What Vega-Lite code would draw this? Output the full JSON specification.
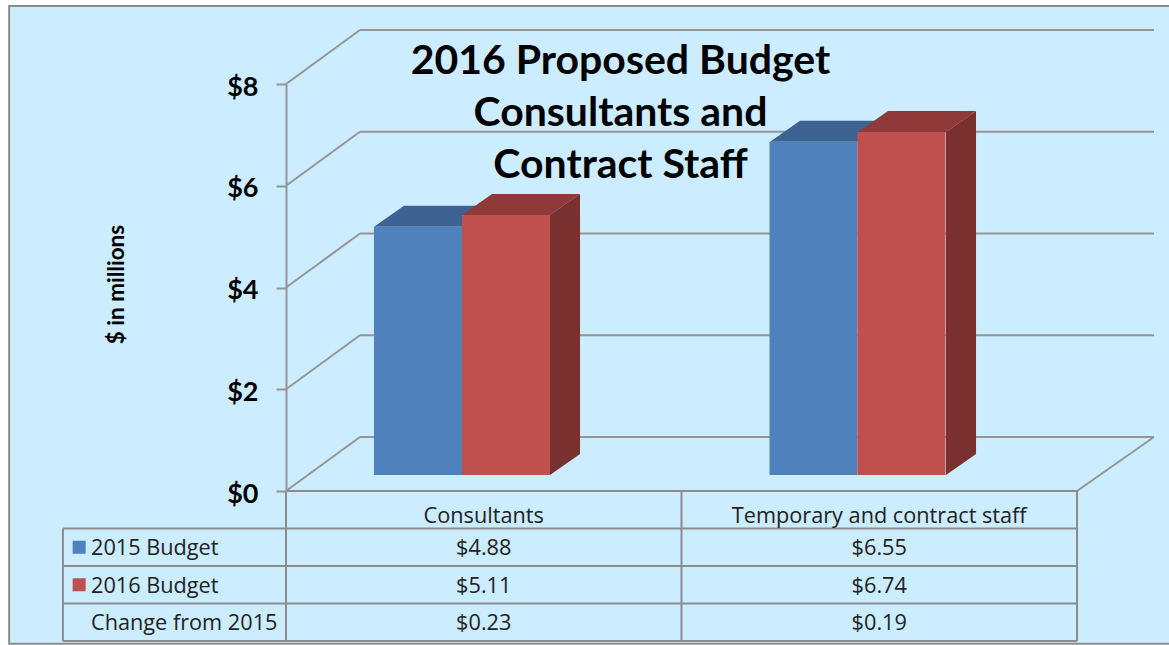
{"$schema":"https://vega.github.io/schema/vega-lite/v6.json","width":791,"height":407,"autosize":{"type":"none"},"padding":{"left":286,"top":84,"right":92,"bottom":154},"background":"white","config":{"view":{"stroke":null}},"title":{"text":["2016 Proposed Budget","Consultants and","Contract Staff"],"font":"Lato","fontWeight":"bold","fontSize":41,"lineHeight":52,"color":"#000000","anchor":"middle","frame":"group","dx":-61,"dy":182,"offset":0},"datasets":{"table":[{"category":"Consultants","series":"2015 Budget","value":4.88},{"category":"Consultants","series":"2016 Budget","value":5.11},{"category":"Consultants","series":"Change from 2015","value":0.23},{"category":"Temporary and contract staff","series":"2015 Budget","value":6.55},{"category":"Temporary and contract staff","series":"2016 Budget","value":6.74},{"category":"Temporary and contract staff","series":"Change from 2015","value":0.19}],"wire":[{"from":0,"to":0.187,"level":0,"levelEnd":1.061},{"from":0,"to":0.187,"level":2,"levelEnd":3.061},{"from":0,"to":0.187,"level":4,"levelEnd":5.061},{"from":0,"to":0.187,"level":6,"levelEnd":7.061},{"from":0,"to":0.187,"level":8,"levelEnd":9.061},{"from":0.187,"to":2.1947,"level":1.061,"levelEnd":1.061},{"from":0.187,"to":2.1947,"level":3.061,"levelEnd":3.061},{"from":0.187,"to":2.1947,"level":5.061,"levelEnd":5.061},{"from":0.187,"to":2.1947,"level":7.061,"levelEnd":7.061},{"from":0.187,"to":2.1947,"level":9.061,"levelEnd":9.061},{"from":2,"to":2.1947,"level":0,"levelEnd":1.061}],"grid":[{"from":0,"to":2,"rowStart":0,"rowEnd":0},{"from":-0.564,"to":2,"rowStart":1,"rowEnd":1},{"from":-0.564,"to":2,"rowStart":2,"rowEnd":2},{"from":-0.564,"to":2,"rowStart":3,"rowEnd":3},{"from":-0.564,"to":2,"rowStart":4,"rowEnd":4},{"from":-0.564,"to":-0.564,"rowStart":1,"rowEnd":4},{"from":0,"to":0,"rowStart":0,"rowEnd":4},{"from":1,"to":1,"rowStart":0,"rowEnd":4},{"from":2,"to":2,"rowStart":0,"rowEnd":4}],"faces":[{"bar":"a15","series":"2015 Budget","face":"top","x":0.2225,"x2":0.445,"level":4.88,"levelBase":4.88},{"bar":"a15","series":"2015 Budget","face":"top","x":0.2984,"x2":0.5209,"level":5.293,"levelBase":5.293},{"bar":"a16","series":"2016 Budget","face":"top","x":0.445,"x2":0.6675,"level":5.11,"levelBase":5.11},{"bar":"a16","series":"2016 Budget","face":"top","x":0.5209,"x2":0.7434,"level":5.523,"levelBase":5.523},{"bar":"b15","series":"2015 Budget","face":"top","x":1.2238,"x2":1.4463,"level":6.55,"levelBase":6.55},{"bar":"b15","series":"2015 Budget","face":"top","x":1.2997,"x2":1.5222,"level":6.963,"levelBase":6.963},{"bar":"b16","series":"2016 Budget","face":"top","x":1.4463,"x2":1.6688,"level":6.74,"levelBase":6.74},{"bar":"b16","series":"2016 Budget","face":"top","x":1.5222,"x2":1.7447,"level":7.153,"levelBase":7.153},{"bar":"a16","series":"2016 Budget","face":"side","x":0.6675,"x2":0.6675,"level":5.11,"levelBase":0},{"bar":"a16","series":"2016 Budget","face":"side","x":0.7434,"x2":0.7434,"level":5.523,"levelBase":0.413},{"bar":"b16","series":"2016 Budget","face":"side","x":1.6688,"x2":1.6688,"level":6.74,"levelBase":0},{"bar":"b16","series":"2016 Budget","face":"side","x":1.7447,"x2":1.7447,"level":7.153,"levelBase":0.413}]},"resolve":{"scale":{"x":"independent","y":"independent"}},"layer":[{"data":{"values":[{"panel":"frame"}]},"mark":{"type":"rect","fill":"#CCECFF","stroke":"#8C8C8C","strokeWidth":2},"encoding":{"x":{"datum":-0.7,"type":"quantitative","scale":{"domain":[0,2]},"axis":null},"x2":{"datum":2.26},"y":{"datum":9.533,"type":"quantitative","scale":{"domain":[0,8]},"axis":null},"y2":{"datum":-3.0}}},{"data":{"name":"wire"},"mark":{"type":"rule","color":"#959595","strokeWidth":2},"encoding":{"x":{"field":"from","type":"quantitative","scale":{"domain":[0,2]},"axis":null},"x2":{"field":"to"},"y":{"field":"level","type":"quantitative","scale":{"domain":[0,8]},"axis":{"zindex":1,"values":[0,2,4,6,8],"format":"$.0f","title":"$ in millions","titleFont":"Lato","titleFontWeight":"bold","titleFontSize":22.5,"titleColor":"#000000","titleX":-158,"titleY":200,"labelFont":"Lato","labelFontWeight":"bold","labelFontSize":27,"labelColor":"#000000","labelPadding":18,"labelOffset":3,"tickSize":10,"tickColor":"#959595","tickWidth":2,"domainColor":"#959595","domainWidth":2,"grid":false}},"y2":{"field":"levelEnd"}}},{"data":{"name":"grid"},"mark":{"type":"rule","color":"#8C8C8C","strokeWidth":2},"encoding":{"x":{"field":"from","type":"quantitative","scale":{"domain":[0,2]},"axis":null},"x2":{"field":"to"},"y":{"field":"rowStart","type":"quantitative","scale":{"domain":[0,4],"range":[407,557]},"axis":null},"y2":{"field":"rowEnd"}}},{"data":{"name":"faces"},"transform":[{"filter":"datum.face=='top'&&datum.series=='2015 Budget'"}],"mark":{"type":"area","orient":"horizontal","color":"#3C6391"},"encoding":{"detail":{"field":"bar"},"x":{"field":"x","type":"quantitative","scale":{"domain":[0,2]},"axis":null},"x2":{"field":"x2"},"y":{"field":"level","type":"quantitative","scale":{"domain":[0,8],"range":[391,-16]},"axis":null}}},{"data":{"name":"faces"},"transform":[{"filter":"datum.face=='top'&&datum.series=='2016 Budget'"}],"mark":{"type":"area","orient":"horizontal","color":"#8F3A38"},"encoding":{"detail":{"field":"bar"},"x":{"field":"x","type":"quantitative","scale":{"domain":[0,2]},"axis":null},"x2":{"field":"x2"},"y":{"field":"level","type":"quantitative","scale":{"domain":[0,8],"range":[391,-16]},"axis":null}}},{"data":{"name":"faces"},"transform":[{"filter":"datum.face=='side'"}],"mark":{"type":"area","orient":"vertical","color":"#7A302E"},"encoding":{"detail":{"field":"bar"},"x":{"field":"x","type":"quantitative","scale":{"domain":[0,2]},"axis":null},"y":{"field":"level","type":"quantitative","scale":{"domain":[0,8],"range":[391,-16]},"axis":null},"y2":{"field":"levelBase"}}},{"data":{"name":"table"},"transform":[{"filter":"datum.series!='Change from 2015'"}],"mark":{"type":"bar"},"encoding":{"x":{"field":"category","type":"nominal","scale":{"domain":["Consultants","Temporary and contract staff"],"range":[0,791],"paddingInner":0,"paddingOuter":0},"axis":null},"xOffset":{"field":"series","type":"nominal","scale":{"domain":["2015 Budget","2016 Budget"],"range":[88,264],"paddingInner":0,"paddingOuter":0}},"y":{"field":"value","type":"quantitative","scale":{"domain":[0,8],"range":[391,-16]},"axis":null},"color":{"field":"series","type":"nominal","scale":{"domain":["2015 Budget","2016 Budget"],"range":["#4F81BD","#C0504D"]},"legend":null}}},{"data":{"values":[{"category":"Consultants"},{"category":"Temporary and contract staff"}]},"mark":{"type":"text","font":"Open Sans","fontSize":21.7,"color":"#222222","baseline":"middle"},"encoding":{"x":{"field":"category","type":"nominal","scale":{"domain":["Consultants","Temporary and contract staff"],"range":[0,791],"paddingInner":0,"paddingOuter":0},"axis":null},"y":{"datum":0.66,"type":"quantitative","scale":{"domain":[0,4],"range":[407,557]},"axis":null},"text":{"field":"category"}}},{"data":{"name":"table"},"mark":{"type":"text","font":"Open Sans","fontSize":21.7,"color":"#222222","baseline":"middle","dy":1},"encoding":{"x":{"field":"category","type":"nominal","scale":{"domain":["Consultants","Temporary and contract staff"],"range":[0,791],"paddingInner":0,"paddingOuter":0},"axis":null},"y":{"field":"series","type":"nominal","scale":{"type":"band","domain":["header","2015 Budget","2016 Budget","Change from 2015"],"range":[407,557],"paddingInner":0,"paddingOuter":0},"axis":null},"text":{"field":"value","format":"$.2f"}}},{"data":{"name":"table"},"transform":[{"filter":"datum.category=='Consultants'"}],"mark":{"type":"text","font":"Open Sans","fontSize":21.7,"color":"#222222","baseline":"middle","align":"left","dy":1},"encoding":{"x":{"datum":-0.493,"type":"quantitative","scale":{"domain":[0,2]},"axis":null},"y":{"field":"series","type":"nominal","scale":{"type":"band","domain":["header","2015 Budget","2016 Budget","Change from 2015"],"range":[407,557],"paddingInner":0,"paddingOuter":0},"axis":null},"text":{"field":"series"}}},{"data":{"name":"table"},"transform":[{"filter":"datum.category=='Consultants'&&datum.series!='Change from 2015'"}],"mark":{"type":"point","shape":"square","filled":true,"size":170,"opacity":1},"encoding":{"x":{"datum":-0.523,"type":"quantitative","scale":{"domain":[0,2]},"axis":null},"y":{"field":"series","type":"nominal","scale":{"type":"band","domain":["header","2015 Budget","2016 Budget","Change from 2015"],"range":[407,557],"paddingInner":0,"paddingOuter":0},"axis":null},"color":{"field":"series","type":"nominal","scale":{"domain":["2015 Budget","2016 Budget"],"range":["#4F81BD","#C0504D"]},"legend":null}}}]}
